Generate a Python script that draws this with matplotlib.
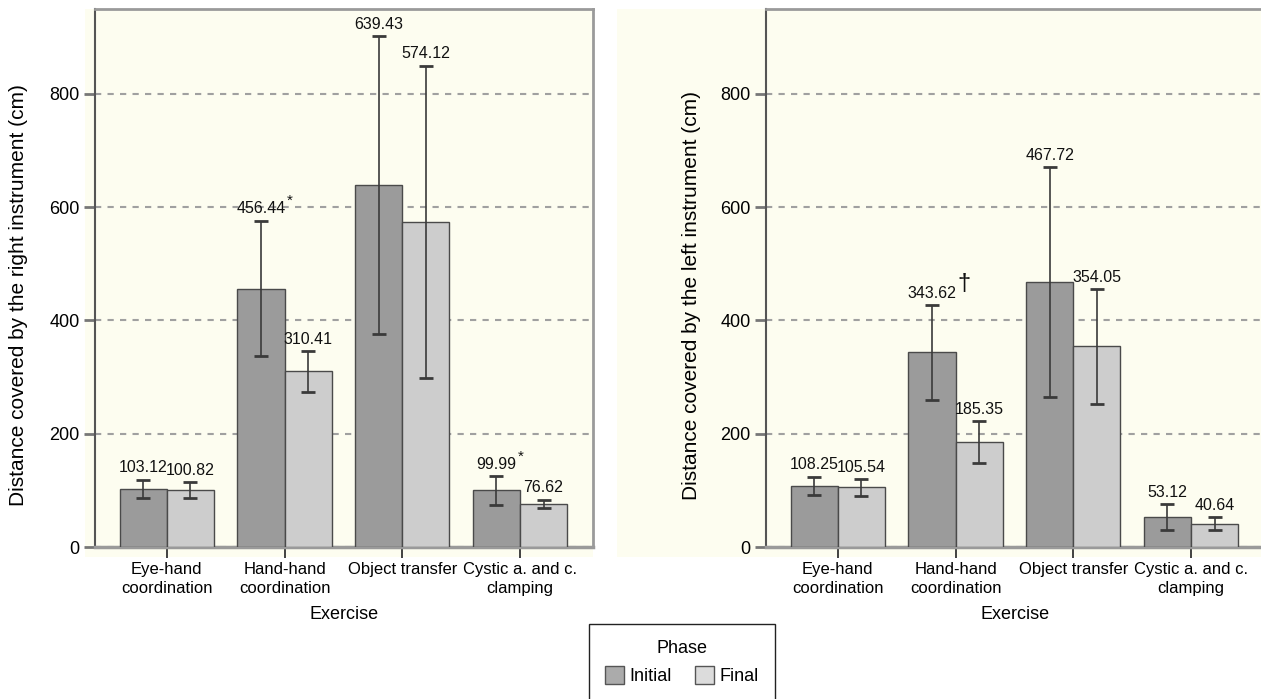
import matplotlib
matplotlib.use("Agg")
import matplotlib.pyplot as plt
from matplotlib.patches import Rectangle, Patch
import numpy as np

plt.rcParams['font.family'] = ['Liberation Sans', 'DejaVu Sans']

exercises = ["Eye-hand\ncoordination", "Hand-hand\ncoordination", "Object transfer", "Cystic a. and c.\nclamping"]

right_initial = [103.12, 456.44, 639.43, 99.99]
right_final = [100.82, 310.41, 574.12, 76.62]
right_initial_err = [16, 120, 263, 25]
right_final_err = [13.5, 36, 276, 7]
right_initial_marks = ["", "*", "", "*"]
right_final_marks = ["", "", "", ""]

left_initial = [108.25, 343.62, 467.72, 53.12]
left_final = [105.54, 185.35, 354.05, 40.64]
left_initial_err = [16, 84, 203, 23]
left_final_err = [15, 37, 101, 11.5]
left_initial_marks = ["", "†", "", ""]
left_final_marks = ["", "", "", ""]

yticks = [0, 200, 400, 600, 800]
phases = ["Initial", "Final"]

W, H = 1261, 699
fig = plt.figure(figsize=(W / 100, H / 100), dpi=100)
fig.patch.set_facecolor("white")

cream = "#fdfdf0"
# cream background regions
fig.patches.append(Rectangle((85 / W, 1 - 557 / H), (593 - 85) / W, (557 - 9) / H,
                             transform=fig.transFigure, facecolor=cream, edgecolor="none", zorder=-10))
fig.patches.append(Rectangle((617 / W, 1 - 557 / H), (1261 - 617) / W, (557 - 9) / H,
                             transform=fig.transFigure, facecolor=cream, edgecolor="none", zorder=-10))

c_init = "#9b9b9b"
c_final = "#cdcdcd"
edge = "#4a4a4a"
bw = 0.40

def panel(rect, xlim, init, fin, ierr, ferr, imarks, fmarks, ylabel, ylab_x):
    ax = fig.add_axes(rect)
    ax.set_facecolor(cream)
    x = np.arange(len(exercises))
    ax.bar(x - bw / 2, init, bw, color=c_init, edgecolor=edge, linewidth=1.0, zorder=3)
    ax.bar(x + bw / 2, fin, bw, color=c_final, edgecolor=edge, linewidth=1.0, zorder=3)
    for xs, vals, errs in ((x - bw / 2, init, ierr), (x + bw / 2, fin, ferr)):
        ax.errorbar(xs, vals, yerr=errs, fmt="none", ecolor="#3a3a3a", elinewidth=1.2,
                    capsize=5, capthick=2.0, zorder=4)
    for xs, vals, errs, marks in ((x - bw / 2, init, ierr, imarks), (x + bw / 2, fin, ferr, fmarks)):
        for xi, v, e, m in zip(xs, vals, errs, marks):
            t = ax.annotate(f"{v:.2f}", xy=(xi, v + e), xytext=(0, 3), textcoords="offset points",
                            ha="center", va="bottom", fontsize=11.5, color="#111111", zorder=5)
            if m == "*":
                ax.annotate("*", xy=(1.0, 0.55), xycoords=t, xytext=(1, 0), textcoords="offset points",
                            ha="left", va="bottom", fontsize=11, color="#111111")
            elif m == "†":
                ax.annotate("†", xy=(1.0, 0.35), xycoords=t, xytext=(1, 0), textcoords="offset points",
                            ha="left", va="bottom", fontsize=17, color="#111111")
    ax.set_xlim(*xlim)
    ax.set_ylim(0, 950)
    ax.set_yticks(yticks)
    ax.set_yticklabels([str(v) for v in yticks], fontsize=13)
    ax.set_xticks(x)
    ax.set_xticklabels(exercises, fontsize=12, linespacing=1.3)
    ax.yaxis.grid(True, linestyle=(0, (3, 3)), color="#a0a0a0", linewidth=1.5, zorder=1)
    ax.set_axisbelow(True)
    ax.tick_params(axis="x", direction="out", length=8, width=1.3, color="#333333", pad=3)
    ax.tick_params(axis="y", direction="out", length=8, width=2.0, color="#777777", pad=3)
    ax.spines["left"].set_color("#555555")
    ax.spines["left"].set_linewidth(1.5)
    for s in ("top", "right"):
        ax.spines[s].set_color("#9a9a9a")
        ax.spines[s].set_linewidth(2.0)
    ax.spines["bottom"].set_color("#9a9a9a")
    ax.spines["bottom"].set_linewidth(2.5)
    ax.set_ylabel(ylabel, fontsize=15)
    ax.yaxis.set_label_coords(ylab_x, 0.468)
    ax.set_xlabel("Exercise", fontsize=13)
    ax.xaxis.set_label_coords(0.5, -0.11)
    return ax

bottom = 1 - 547 / H
height = (547 - 9) / H
ax1 = panel([95 / W, bottom, 498 / W, height], (-0.61, 3.62),
            right_initial, right_final, right_initial_err, right_final_err,
            right_initial_marks, right_final_marks,
            "Distance covered by the right instrument (cm)", -0.135)
ax2 = panel([766 / W, bottom, 498 / W, height], (-0.61, 3.62),
            left_initial, left_final, left_initial_err, left_final_err,
            left_initial_marks, left_final_marks,
            "Distance covered by the left instrument (cm)", -0.13)

handles = [Patch(facecolor="#ababab", edgecolor="#555555", linewidth=1.0, label=phases[0]),
           Patch(facecolor="#dcdcdc", edgecolor="#555555", linewidth=1.0, label=phases[1])]
leg = fig.legend(handles=handles, title="Phase", ncol=2, loc="upper center",
                 bbox_to_anchor=(682 / W, 1 - 624 / H), fontsize=13, title_fontsize=13,
                 frameon=True, fancybox=False, edgecolor="#222222", framealpha=1,
                 handlelength=1.05, handleheight=1.1, handletextpad=0.3, columnspacing=1.3,
                 borderpad=0.9, borderaxespad=0)
leg.get_frame().set_linewidth(1.0)

fig.savefig("out.png", dpi=100, facecolor="white")
